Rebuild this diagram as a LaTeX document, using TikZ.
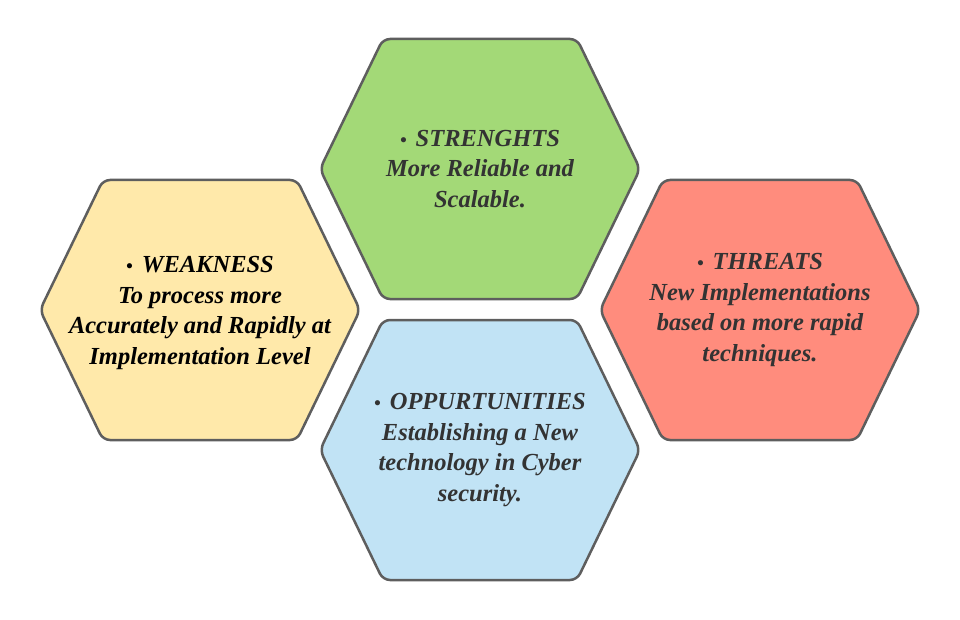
\documentclass[tikz,border=0pt]{standalone}
\usepackage{fontspec}
\setmainfont{Liberation Serif}
\definecolor{hexline}{HTML}{5E5E5E}
\definecolor{txtgray}{HTML}{333333}
\definecolor{hgreen}{RGB}{163,217,119}
\definecolor{hyellow}{RGB}{255,233,170}
\definecolor{hred}{RGB}{255,140,125}
\definecolor{hblue}{RGB}{193,227,245}
\newcommand\bul{{\fontsize{19}{19}\selectfont\textbullet}\hspace{9pt}}
\begin{document}
\begin{tikzpicture}[x=1pt,y=-1pt,
  hexedge/.style={draw=hexline, line width=2.5pt, rounded corners=7pt, line join=round},
  hexa/.pic={\path[hexedge, pic actions] (-160,0) -- (-97,-130) -- (97,-130) -- (160,0) -- (97,130) -- (-97,130) -- cycle;},
  lbl/.style={align=center, font=\fontsize{24.5}{30.5}\selectfont\bfseries\itshape, text=txtgray, inner sep=0pt}]
\useasboundingbox (0,0) rectangle (960,620);
\coordinate (S) at (480,169);
\coordinate (W) at (200,310);
\coordinate (T) at (760,310);
\coordinate (O) at (480,450);
\pic[fill=hgreen] at (S) {hexa};
\pic[fill=hyellow] at (W) {hexa};
\pic[fill=hred] at (T) {hexa};
\pic[fill=hblue] at (O) {hexa};
\node[lbl] (st) at (S) {\bul STRENGHTS\\More Reliable and\\Scalable.};
\node[lbl, text=black] (we) at ([yshift=-3]W) {\bul WEAKNESS\\To process more\\Accurately and Rapidly at\\Implementation Level};
\node[lbl] (th) at (T) {\bul THREATS\\New Implementations\\based on more rapid\\techniques.};
\node[lbl] (op) at (O) {\bul OPPURTUNITIES\\Establishing a New\\technology in Cyber\\security.};
\end{tikzpicture}
\end{document}
